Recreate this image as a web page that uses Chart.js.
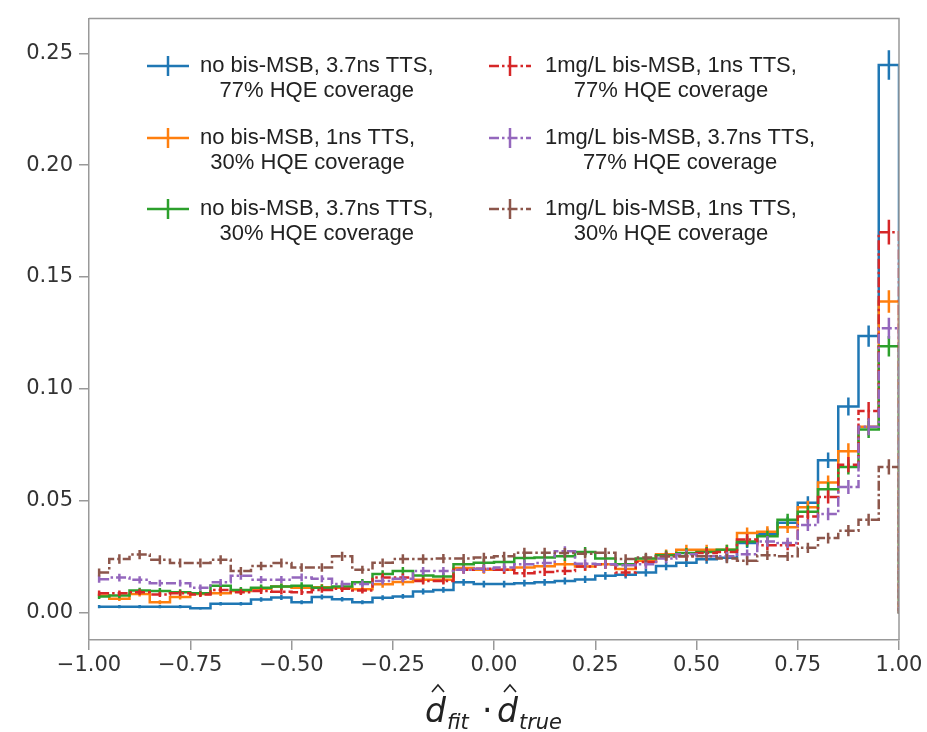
<!DOCTYPE html>
<html>
<head>
<meta charset="utf-8">
<script src="https://cdn.jsdelivr.net/npm/chart.js@4.4.0/dist/chart.umd.min.js"></script>
<style>
  html, body { margin: 0; background: #fff; }
  #wrap { width: 927px; height: 732px; }
</style>
</head>
<body>
<div id="wrap"><canvas id="c" width="927" height="732"></canvas></div>
<script>
// bin centres (width 0.05), last one is the empty bin past 1.0
const binCenters = [-0.975, -0.925, -0.875, -0.825, -0.775, -0.725, -0.675, -0.625, -0.575, -0.525,
  -0.475, -0.425, -0.375, -0.325, -0.275, -0.225, -0.175, -0.125, -0.075, -0.025,
  0.025, 0.075, 0.125, 0.175, 0.225, 0.275, 0.325, 0.375, 0.425, 0.475,
  0.525, 0.575, 0.625, 0.675, 0.725, 0.775, 0.825, 0.875, 0.925, 0.975, 1.025];

const xTicks = [-1, -0.75, -0.5, -0.25, 0, 0.25, 0.5, 0.75, 1];
const yTicks = [0, 0.05, 0.10, 0.15, 0.20, 0.25];

const labels = [
  ['no bis-MSB, 3.7ns TTS,', '77% HQE coverage'],
  ['no bis-MSB, 1ns TTS,', '30% HQE coverage'],
  ['no bis-MSB, 3.7ns TTS,', '30% HQE coverage'],
  ['1mg/L bis-MSB, 1ns TTS,', '77% HQE coverage'],
  ['1mg/L bis-MSB, 3.7ns TTS,', '77% HQE coverage'],
  ['1mg/L bis-MSB, 1ns TTS,', '30% HQE coverage']
];

const blueVals = [0.0025, 0.0025, 0.0025, 0.0025, 0.0025, 0.0018, 0.0038, 0.0038, 0.0057, 0.0066,
  0.0045, 0.0068, 0.0058, 0.0045, 0.0065, 0.0071, 0.0093, 0.0100, 0.0134, 0.0126,
  0.0126, 0.0130, 0.0134, 0.0140, 0.0147, 0.0163, 0.0168, 0.0178, 0.0207, 0.0222,
  0.0237, 0.0244, 0.0310, 0.0350, 0.0400, 0.0490, 0.0680, 0.0920, 0.1235, 0.2447, 0];
const blueErr = [0.0007, 0.0007, 0.0007, 0.0007, 0.0007, 0.0006, 0.0008, 0.0008, 0.0010, 0.0011,
  0.0009, 0.0011, 0.0010, 0.0009, 0.0011, 0.0011, 0.0013, 0.0013, 0.0015, 0.0015,
  0.0015, 0.0015, 0.0015, 0.0016, 0.0016, 0.0017, 0.0017, 0.0018, 0.0019, 0.0020,
  0.0020, 0.0021, 0.0023, 0.0025, 0.0027, 0.0029, 0.0035, 0.0040, 0.0047, 0.0066];

const orangeVals = [0.0075, 0.0060, 0.0082, 0.0045, 0.0068, 0.0082, 0.0085, 0.0095, 0.0105, 0.0115,
  0.0110, 0.0112, 0.0110, 0.0103, 0.0125, 0.0135, 0.0145, 0.0145, 0.0198, 0.0190,
  0.0190, 0.0200, 0.0206, 0.0215, 0.0205, 0.0215, 0.0193, 0.0230, 0.0260, 0.0280,
  0.0280, 0.0280, 0.0354, 0.0360, 0.0380, 0.0470, 0.0580, 0.0720, 0.0830, 0.1390, 0];
const orangeErr = [0.0012, 0.0010, 0.0012, 0.0009, 0.0011, 0.0012, 0.0012, 0.0013, 0.0014, 0.0014,
  0.0014, 0.0014, 0.0014, 0.0013, 0.0015, 0.0015, 0.0016, 0.0016, 0.0019, 0.0018,
  0.0018, 0.0019, 0.0019, 0.0020, 0.0019, 0.0020, 0.0018, 0.0020, 0.0021, 0.0022,
  0.0022, 0.0022, 0.0025, 0.0025, 0.0026, 0.0029, 0.0032, 0.0036, 0.0038, 0.0050];

const greenVals = [0.0070, 0.0075, 0.0097, 0.0095, 0.0090, 0.0085, 0.0119, 0.0100, 0.0110, 0.0115,
  0.0119, 0.0110, 0.0115, 0.0134, 0.0171, 0.0185, 0.0165, 0.0160, 0.0215, 0.0222,
  0.0225, 0.0243, 0.0245, 0.0250, 0.0270, 0.0240, 0.0215, 0.0240, 0.0255, 0.0265,
  0.0270, 0.0280, 0.0317, 0.0340, 0.0414, 0.0450, 0.0550, 0.0650, 0.0817, 0.1190, 0];
const greenErr = [0.0011, 0.0012, 0.0013, 0.0013, 0.0013, 0.0012, 0.0015, 0.0013, 0.0014, 0.0014,
  0.0015, 0.0014, 0.0014, 0.0015, 0.0017, 0.0018, 0.0017, 0.0017, 0.0019, 0.0020,
  0.0020, 0.0021, 0.0021, 0.0021, 0.0022, 0.0021, 0.0020, 0.0021, 0.0021, 0.0022,
  0.0022, 0.0022, 0.0024, 0.0025, 0.0027, 0.0028, 0.0031, 0.0034, 0.0038, 0.0046];

const redVals = [0.0085, 0.0085, 0.0090, 0.0080, 0.0085, 0.0080, 0.0100, 0.0090, 0.0095, 0.0092,
  0.0090, 0.0100, 0.0105, 0.0097, 0.0156, 0.0156, 0.0140, 0.0140, 0.0190, 0.0195,
  0.0190, 0.0175, 0.0180, 0.0185, 0.0205, 0.0215, 0.0178, 0.0225, 0.0250, 0.0250,
  0.0265, 0.0270, 0.0326, 0.0300, 0.0300, 0.0428, 0.0516, 0.0660, 0.0900, 0.1700, 0];
const redErr = [0.0012, 0.0012, 0.0013, 0.0012, 0.0012, 0.0012, 0.0013, 0.0013, 0.0013, 0.0013,
  0.0013, 0.0013, 0.0014, 0.0013, 0.0017, 0.0017, 0.0016, 0.0016, 0.0018, 0.0019,
  0.0018, 0.0018, 0.0018, 0.0018, 0.0019, 0.0020, 0.0018, 0.0020, 0.0021, 0.0021,
  0.0022, 0.0022, 0.0024, 0.0023, 0.0023, 0.0028, 0.0030, 0.0034, 0.0040, 0.0055];

const purpleVals = [0.0148, 0.0155, 0.0145, 0.0130, 0.0130, 0.0110, 0.0134, 0.0163, 0.0146, 0.0146,
  0.0156, 0.0150, 0.0127, 0.0127, 0.0140, 0.0150, 0.0185, 0.0185, 0.0190, 0.0195,
  0.0200, 0.0215, 0.0220, 0.0273, 0.0217, 0.0215, 0.0210, 0.0215, 0.0240, 0.0260,
  0.0250, 0.0250, 0.0260, 0.0317, 0.0310, 0.0390, 0.0440, 0.0560, 0.0830, 0.1270, 0];
const purpleErr = [0.0016, 0.0017, 0.0016, 0.0015, 0.0015, 0.0014, 0.0015, 0.0017, 0.0016, 0.0016,
  0.0017, 0.0016, 0.0015, 0.0015, 0.0016, 0.0016, 0.0018, 0.0018, 0.0018, 0.0019,
  0.0019, 0.0020, 0.0020, 0.0022, 0.0020, 0.0020, 0.0019, 0.0020, 0.0021, 0.0021,
  0.0021, 0.0021, 0.0021, 0.0024, 0.0023, 0.0026, 0.0028, 0.0031, 0.0038, 0.0047];

const brownVals = [0.0178, 0.0238, 0.0258, 0.0235, 0.0220, 0.0220, 0.0235, 0.0185, 0.0207, 0.0220,
  0.0200, 0.0200, 0.0250, 0.0190, 0.0221, 0.0238, 0.0238, 0.0240, 0.0240, 0.0245,
  0.0250, 0.0266, 0.0266, 0.0265, 0.0262, 0.0266, 0.0238, 0.0245, 0.0250, 0.0250,
  0.0250, 0.0240, 0.0230, 0.0255, 0.0250, 0.0288, 0.0332, 0.0365, 0.0414, 0.0650, 0];
const brownErr = [0.0018, 0.0021, 0.0021, 0.0020, 0.0020, 0.0020, 0.0020, 0.0018, 0.0019, 0.0020,
  0.0019, 0.0019, 0.0021, 0.0018, 0.0020, 0.0021, 0.0021, 0.0021, 0.0021, 0.0021,
  0.0021, 0.0022, 0.0022, 0.0022, 0.0022, 0.0022, 0.0021, 0.0021, 0.0021, 0.0021,
  0.0021, 0.0021, 0.0020, 0.0021, 0.0021, 0.0023, 0.0024, 0.0025, 0.0027, 0.0034];

const seriesVals = [blueVals, orangeVals, greenVals, redVals, purpleVals, brownVals];
const seriesErr = [blueErr, orangeErr, greenErr, redErr, purpleErr, brownErr];
const colors = ['#1f77b4', '#ff7f0e', '#2ca02c', '#d62728', '#9467bd', '#8c564b'];
const dashDot = [10, 3, 2.5, 3];
const dashes = [[], [], [], dashDot, dashDot, dashDot];
const LW = 2.5;

const fmt = v => v.toFixed(2).replace('-', '\u2212');

// vertical error bar at each bin centre, drawn right after its own line
const errorBars = {
  id: 'errorBars',
  afterDatasetDraw(chart, args) {
    const i = args.index;
    const { ctx, chartArea: a, scales: { x, y } } = chart;
    ctx.save();
    ctx.beginPath();
    ctx.rect(a.left, a.top, a.right - a.left, a.bottom - a.top);
    ctx.clip();
    ctx.strokeStyle = colors[i];
    ctx.lineWidth = LW;
    ctx.beginPath();
    seriesErr[i].forEach((e, j) => {
      const v = seriesVals[i][j];
      const px = x.getPixelForValue(binCenters[j]);
      ctx.moveTo(px, y.getPixelForValue(v - e));
      ctx.lineTo(px, y.getPixelForValue(v + e));
    });
    ctx.stroke();
    ctx.restore();
  }
};

const frameAndLegend = {
  id: 'frameAndLegend',
  afterDraw(chart) {
    const { ctx, chartArea: a } = chart;
    ctx.save();
    // top + right spines
    ctx.strokeStyle = '#999';
    ctx.lineWidth = 1.5;
    ctx.beginPath();
    ctx.moveTo(a.left, a.top);
    ctx.lineTo(a.right, a.top);
    ctx.lineTo(a.right, a.bottom);
    ctx.stroke();

    // legend, two columns of three
    const handleX = [147, 489];
    const textLeft = [200, 545];
    const rowY = [66, 138, 209];
    ctx.font = '22px "Liberation Sans", Arial, sans-serif';
    ctx.textBaseline = 'middle';
    ctx.textAlign = 'center';
    labels.forEach((lines, k) => {
      const col = k < 3 ? 0 : 1;
      const yy = rowY[k % 3];
      const hx = handleX[col];
      ctx.strokeStyle = colors[k];
      ctx.lineWidth = LW;
      ctx.setLineDash(dashes[k]);
      ctx.beginPath();
      ctx.moveTo(hx, yy);
      ctx.lineTo(hx + 42, yy);
      ctx.stroke();
      ctx.setLineDash([]);
      ctx.beginPath();
      ctx.moveTo(hx + 21, yy - 10);
      ctx.lineTo(hx + 21, yy + 10);
      ctx.stroke();
      const w = Math.max(...lines.map(t => ctx.measureText(t).width));
      ctx.fillStyle = '#222';
      lines.forEach((t, n) => ctx.fillText(t, textLeft[col] + w / 2, yy + n * 25));
    });

    // x axis title: d-hat_fit . d-hat_true
    ctx.fillStyle = '#222';
    ctx.strokeStyle = '#222';
    ctx.textAlign = 'left';
    ctx.textBaseline = 'alphabetic';
    const big = 'italic 33px "DejaVu Sans", sans-serif';
    const small = 'italic 21px "DejaVu Sans", sans-serif';
    const hatD = x0 => {
      ctx.font = big;
      ctx.fillText('d', x0, 722);
      const w = ctx.measureText('d').width;
      const cx = x0 + w * 0.62;
      ctx.lineWidth = 1.6;
      ctx.beginPath();
      ctx.moveTo(cx - 6, 692);
      ctx.lineTo(cx, 685);
      ctx.lineTo(cx + 6, 692);
      ctx.stroke();
      return x0 + w;
    };
    let cx = hatD(425);
    ctx.font = small;
    ctx.fillText('fit', cx + 1, 729);
    ctx.font = '33px "DejaVu Sans", sans-serif';
    ctx.fillText('\u00b7', 482, 722);
    cx = hatD(497);
    ctx.font = small;
    ctx.fillText('true', cx + 1, 729);
    ctx.restore();
  }
};

const datasets = seriesVals.map((vals, i) => ({
  label: labels[i].join(' '),
  data: vals.map((v, j) => ({ x: binCenters[j], y: v })),
  borderColor: colors[i],
  borderWidth: LW,
  borderDash: dashes[i],
  stepped: 'middle',
  pointRadius: 0,
  fill: false,
  order: 5 - i
}));

const tickFont = { family: 'DejaVu Sans', size: 21 };

new Chart(document.getElementById('c'), {
  type: 'line',
  data: { datasets },
  options: {
    responsive: false,
    animation: false,
    layout: { padding: { left: 0, right: 28, top: 10, bottom: 0 } },
    plugins: { legend: { display: false }, tooltip: { enabled: false } },
    scales: {
      x: {
        type: 'linear', min: -1, max: 1,
        afterBuildTicks: s => { s.ticks = xTicks.map(v => ({ value: v })); },
        afterFit: s => { s.height = 92; },
        ticks: { callback: v => fmt(v), font: tickFont, color: '#333', padding: 3, maxRotation: 0, autoSkip: false },
        grid: { drawOnChartArea: false, tickLength: 10, color: '#999', lineWidth: 1.5 },
        border: { color: '#999', width: 1.5 }
      },
      y: {
        min: -0.0124, max: 0.2655,
        afterBuildTicks: s => { s.ticks = yTicks.map(v => ({ value: v })); },
        afterFit: s => { s.width = 89; },
        ticks: { callback: v => fmt(v), font: tickFont, color: '#333', padding: 6 },
        grid: { drawOnChartArea: false, tickLength: 10, color: '#999', lineWidth: 1.5 },
        border: { color: '#999', width: 1.5 }
      }
    }
  },
  plugins: [errorBars, frameAndLegend]
});
</script>
</body>
</html>
